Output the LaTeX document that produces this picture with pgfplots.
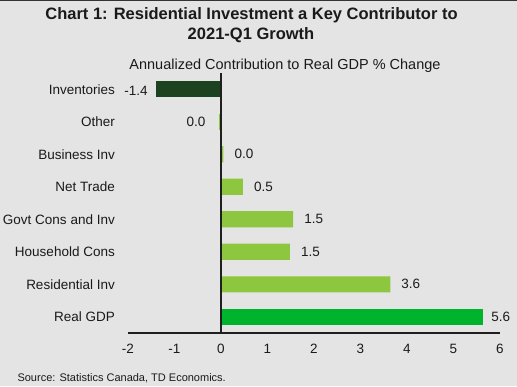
\documentclass[border=0pt]{standalone}
\usepackage{pgfplots}
\pgfplotsset{compat=1.18}
\usepackage{fontspec}
\setmainfont{Liberation Sans}
\definecolor{bg}{HTML}{E4E4E4}
\definecolor{darkg}{HTML}{1C4220}
\definecolor{lightg}{HTML}{8DC63F}
\definecolor{brightg}{HTML}{00B32D}
\definecolor{txt}{HTML}{1A1A1A}
\definecolor{axl}{HTML}{1F1F1F}
\begin{document}
\begin{tikzpicture}
\fill[bg] (0pt,0pt) rectangle (517pt,386pt);
\path[use as bounding box] (0pt,0pt) rectangle (517pt,386pt);
\draw[line width=1.2pt, black!80] (0pt,385.4pt) -- (517pt,385.4pt);
\node[font=\fontsize{16.5}{19}\selectfont\bfseries, text=txt] at (251.5pt,370.5pt) {Chart 1: Residential Investment a Key Contributor to};
\node[font=\fontsize{16.5}{19}\selectfont\bfseries, text=txt] at (251pt,350.5pt) {2021-Q1 Growth};
\node[font=\fontsize{14.5}{17}\selectfont, text=txt] at (285pt,320pt) {Annualized Contribution to Real GDP \% Change};
\node[font=\fontsize{11}{13}\selectfont, text=txt, anchor=west] at (14pt,8pt) {Source: Statistics Canada, TD Economics.};
\begin{axis}[
  at={(128pt,53pt)}, anchor=south west,
  scale only axis, width=372pt, height=260pt,
  xmin=-2, xmax=6, ymin=-0.5, ymax=7.5,
  xbar, bar width=16pt, bar shift=0pt,
  axis x line*=bottom, axis y line*=left,
  x axis line style={line width=2pt, color=axl, -},
  y axis line style={draw=none},
  major tick length=0pt,
  xtick={-2,-1,0,1,2,3,4,5,6},
  xticklabels={-2,-1,0,1,2,3,4,5,6},
  ytick={0,1,2,3,4,5,6,7},
  yticklabels={Real GDP, Residential Inv, Household Cons, Govt Cons and Inv, Net Trade, Business Inv, Other, Inventories},
  xticklabel style={font=\fontsize{13.5}{16}\selectfont, text=txt, anchor=center, inner sep=0pt, yshift=-16pt},
  yticklabel style={font=\fontsize{13.5}{16}\selectfont, text=txt, anchor=east, inner sep=0pt, xshift=-13pt},
  point meta=explicit symbolic,
  nodes near coords={\pgfplotspointmeta},
  every node near coord/.append style={font=\fontsize{13.5}{16}\selectfont, text=txt, inner sep=0pt},
  clip=false,
]
\addplot[fill=darkg, draw=none, every node near coord/.append style={anchor=east, xshift=-8pt, yshift=-2pt}]
  coordinates {(-1.40,7) [-1.4]};
\addplot[fill=lightg, draw=none, every node near coord/.append style={anchor=east, xshift=-13pt}]
  coordinates {(-0.05,6) [0.0]};
\addplot[fill=lightg, draw=none, every node near coord/.append style={anchor=west, xshift=11pt}]
  coordinates {(0.05,5) [0.0] (0.47,4) [0.5] (1.55,3) [1.5] (1.48,2) [1.5] (3.64,1) [3.6]};
\addplot[fill=brightg, draw=none, every node near coord/.append style={anchor=west, xshift=8pt}]
  coordinates {(5.64,0) [5.6]};
\draw[line width=2pt, axl] (axis cs:0,-0.5) -- (axis cs:0,7.5);
\end{axis}
\end{tikzpicture}
\end{document}
